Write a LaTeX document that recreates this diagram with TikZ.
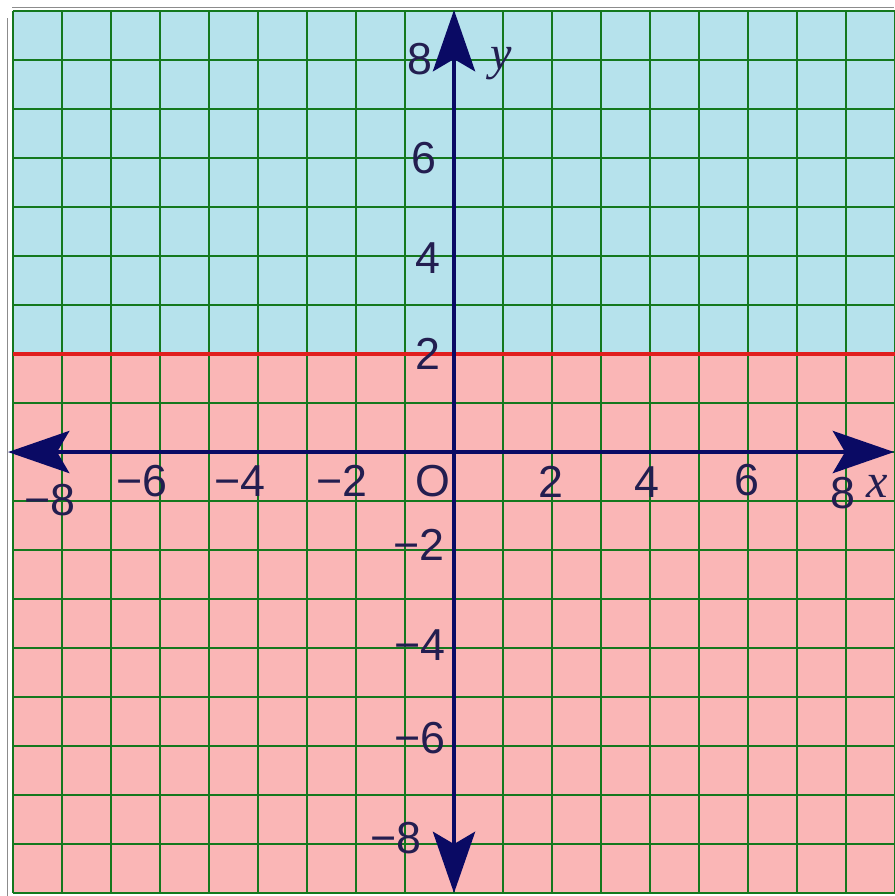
\documentclass[tikz,border=0pt]{standalone}
\usepackage{fontspec}
\setmainfont{Liberation Sans}
\newfontfamily\varfont{Liberation Serif}
\usetikzlibrary{arrows.meta,positioning}
\definecolor{skyfill}{RGB}{182,226,236}
\definecolor{pinkfill}{RGB}{250,182,182}
\definecolor{gridgreen}{RGB}{20,120,30}
\definecolor{axisnavy}{RGB}{10,10,100}
\definecolor{labelnavy}{RGB}{35,30,80}
\definecolor{boundred}{RGB}{225,30,30}

\begin{document}
\begin{tikzpicture}[x=1cm, y=1cm,
    gridline/.style={gridgreen, line width=1.1pt},
    frameline/.style={black!45, line width=0.6pt},
    boundline/.style={boundred, line width=2pt},
    axisline/.style={axisnavy, line width=2.4pt,
        {Stealth[length=12.5mm, width=8.6mm, inset=2.5mm]}-{Stealth[length=12.5mm, width=8.6mm, inset=2.5mm]}},
    ticklabel/.style={text=labelnavy, inner sep=0pt, font=\fontsize{26}{29}\selectfont},
    varlabel/.style={text=labelnavy, inner sep=0pt, font=\fontsize{28}{31}\selectfont\varfont\itshape}]

    \useasboundingbox (-9.265, -9.06) rectangle (8.98, 9.225);

    % half-planes and grid
    \fill[skyfill] (-9, 2) rectangle (9, 9);
    \fill[pinkfill] (-9, -9) rectangle (9, 2);
    \draw[gridline] (-9, -9) grid (9, 9);
    \draw[frameline] (-9.12, 8.85) -- (-9.12, -9.06);
    \draw[frameline] (-9.02, 9.08) -- (8.98, 9.08);

    % boundary y = 2
    \coordinate (bl) at (-9, 2);
    \coordinate (br) at (9, 2);
    \draw[boundline] (bl) -- (br);

    % axes
    \coordinate (xl) at (-9.1, 0);
    \coordinate (xr) at (8.98, 0);
    \coordinate (yb) at (0, -9.0);
    \coordinate (yt) at (0, 9.02);
    \draw[axisline] (xl) -- (xr);
    \draw[axisline] (yb) -- (yt);

    \node[ticklabel] (xm8) at (-8.24, -0.98) {−8};
    \node[ticklabel] (xm6) at (-6.37, -0.59) {−6};
    \node[ticklabel] (xm4) at (-4.37, -0.59) {−4};
    \node[ticklabel] (xm2) at (-2.29, -0.59) {−2};
    \node[ticklabel] (orig) at (-0.43, -0.59) {O};
    \node[ticklabel] (xp2) at (1.98, -0.61) {2};
    \node[ticklabel] (xp4) at (3.94, -0.61) {4};
    \node[ticklabel] (xp6) at (5.98, -0.57) {6};
    \node[ticklabel] (xp8) at (7.94, -0.84) {8};
    \node[varlabel] (xlab) at (8.63, -0.70) {x};

    \node[ticklabel] (yp8) at (-0.69, 8.02) {8};
    \node[ticklabel] (yp6) at (-0.61, 6.0) {6};
    \node[ticklabel] (yp4) at (-0.53, 3.96) {4};
    \node[ticklabel] (yp2) at (-0.53, 2.0) {2};
    \node[ticklabel] (ym2) at (-0.71, -1.90) {−2};
    \node[ticklabel] (ym4) at (-0.69, -3.94) {−4};
    \node[ticklabel] (ym6) at (-0.69, -5.84) {−6};
    \node[ticklabel] (ym8) at (-1.18, -7.88) {−8};
    \node[varlabel] (ylab) at (0.96, 7.92) {y};
\end{tikzpicture}
\end{document}
